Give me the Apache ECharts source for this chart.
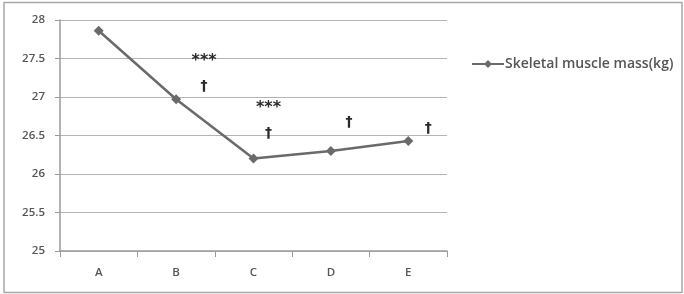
<!DOCTYPE html>
<html><head><meta charset="utf-8">
<script src="https://cdn.jsdelivr.net/npm/echarts@6/dist/echarts.min.js"></script>
<style>html,body{margin:0;padding:0;background:#fff}#c{width:684px;height:294px}</style>
</head><body><div id="c"></div>
<script>
const categories = ['A','B','C','D','E'];
const seriesName = 'Skeletal muscle mass(kg)';
const values = [27.86, 26.97, 26.2, 26.3, 26.43];
const yTicks = [25, 25.5, 26, 26.5, 27, 27.5, 28];
// significance annotations: category, value level, text
const annotCategories = ['B', 'B', 'C', 'C', 'D', 'E'];
const annotValues = [27.50, 27.14, 26.88, 26.53, 26.67, 26.59];
const annotTexts = ['***', '†', '***', '†', '†', '†'];
// horizontal label shift (px) for each annotation — styling only
const annotShift = [28, 28, 15, 15, 18, 20];

const chart = echarts.init(document.getElementById('c'));
chart.setOption({
  animation: false,
  backgroundColor: '#fff',
  graphic: [{type:'rect', shape:{x:4,y:2.5,width:678,height:290}, style:{fill:'none', stroke:'#a8a8a8', lineWidth:1.5}, silent:true}],
  grid: {left: 60, right: 237, top: 20, bottom: 43},
  legend: {
    data: [seriesName], left: 466, top: 52, itemWidth: 32, itemHeight: 10,
    itemGap: 0,
    textStyle: {fontFamily: 'Open Sans', fontWeight: 600, fontSize: 14, color: '#555', padding:[0,0,0,-4]}
  },
  xAxis: {
    type: 'category', data: categories, boundaryGap: true,
    axisLine: {lineStyle: {color: '#9a9a9a', width: 1.5}},
    axisTick: {show: true, length: 6, lineStyle: {color: '#9a9a9a'}},
    axisLabel: {fontFamily: 'Open Sans', fontWeight: 600, fontSize: 11.5, color: '#555', margin: 16}
  },
  yAxis: {
    type: 'value', min: 25, max: 28, interval: 0.5,
    axisLine: {show: true, lineStyle: {color: '#9a9a9a', width: 1.5}},
    axisTick: {show: true, length: 5, lineStyle: {color: '#9a9a9a'}},
    axisLabel: {fontFamily: 'Open Sans', fontWeight: 600, fontSize: 11.5, color: '#555', margin: 15,
      formatter: v => yTicks.includes(v) ? String(v) : ''},
    splitLine: {lineStyle: {color: '#b4b4b4', width: 1.2}}
  },
  series: [{
    name: seriesName, type: 'line', data: values,
    symbol: 'diamond', symbolSize: 10,
    lineStyle: {color: '#6a6a6a', width: 2.5},
    itemStyle: {color: '#6a6a6a'},
    markPoint: {
      symbol: 'rect', symbolSize: 1, itemStyle: {color: 'transparent'},
      data: annotTexts.map((t, i) => ({coord: [annotCategories[i], annotValues[i]], value: t,
        label: {show: true, formatter: t, position: 'inside',
          offset: [annotShift[i], t === '***' ? 2 : 0],
          fontFamily: 'DejaVu Sans', fontWeight: 'bold', fontSize: t === '***' ? 16 : 14, color: '#2a2a2a'}}))
    }
  }]
});
</script></body></html>
